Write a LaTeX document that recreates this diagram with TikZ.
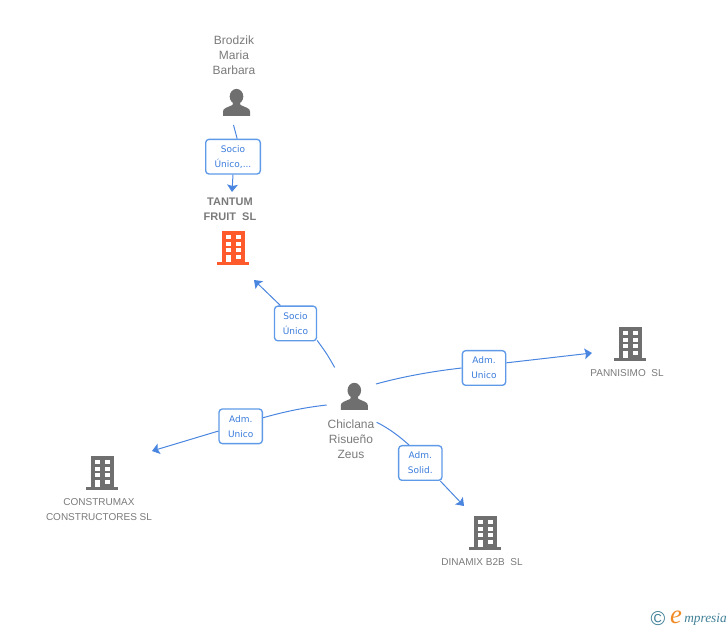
\documentclass[tikz,border=0pt]{standalone}
\usepackage{fontspec}
\setmainfont{Liberation Sans}
\newfontfamily\boxfont{DejaVu Sans}
\newfontfamily\logofont{Liberation Serif}
\usepackage{tikz}
\usetikzlibrary{arrows.meta,positioning}
\definecolor{linkblue}{HTML}{4A86E0}
\definecolor{boxblue}{HTML}{5F9AE8}
\definecolor{txtblue}{HTML}{3A7CDC}
\definecolor{icongray}{HTML}{6F6F6F}
\definecolor{txtgray}{HTML}{7A7A7A}
\definecolor{mainorange}{HTML}{FF5A2C}
\definecolor{logoteal}{HTML}{3F8097}
\definecolor{logoorange}{HTML}{F08A24}
\tikzstyle{line} = [draw=linkblue, line width=0.75pt]
\tikzstyle{arrow} = [line, -{Stealth[length=5.5pt,width=8pt,inset=1pt]}]
\tikzstyle{role} = [draw=boxblue, line width=1pt, fill=white, rounded corners=2.5pt, inner sep=0pt, minimum height=26pt, align=center, text=txtblue, font=\boxfont\fontsize{6.75}{11.25}\selectfont]
\tikzstyle{persontxt} = [inner sep=0pt, align=center, text=txtgray, font=\fontsize{9}{11.25}\selectfont]
\tikzstyle{firmtxt} = [inner sep=0pt, align=center, text=txtgray, font=\fontsize{7.5}{11.25}\selectfont]
\tikzstyle{icon} = [inner sep=0pt, minimum width=24pt, minimum height=25pt]
% name, position, colour
\newcommand{\buildingicon}[3]{
  \node (#1) at (#2) [icon] {};
  \begin{scope}[shift={(#2)}]
    \fill [#3] (-16,14) rectangle (16,17);
    \fill [#3] (-11,-17) rectangle (12,15);
    \foreach \px in {-7.5,2.5}
      \foreach \py in {-13,-6.3,0.3}
        \fill [white] (\px,\py) rectangle +(5,4);
    \fill [white] (-7.5,7) rectangle (-2.5,14);
    \fill [white] (2.5,7) rectangle (7.5,11);
  \end{scope}
}
% name, position
\newcommand{\personicon}[2]{
  \node (#1) at (#2) [icon] {};
  \begin{scope}[shift={(#2)}]
    \fill [icongray] (0,-6) ellipse [x radius=6.8, y radius=7.6];
    \fill [icongray] (-13.5,13.5) -- (-13.5,9) .. controls (-13.5,5.5) and (-9,5) .. (-4,2.5)
      -- (-3,-2) -- (3,-2) -- (4,2.5) .. controls (9,5) and (13.5,5.5) .. (13.5,9) -- (13.5,13.5) -- cycle;
  \end{scope}
}

\begin{document}
\begin{tikzpicture}[x=0.75pt, y=-0.75pt]
\useasboundingbox (0,0) rectangle (728,630);

\personicon{pers0}{236.5,102.5}
\node (pers0txt) at (234,55) [persontxt] {Brodzik\\Maria\\Barbara};

\personicon{pers1}{354.3,396.4}
\node (pers1txt) at (351,439) [persontxt] {Chiclana\\Risueño\\Zeus};

\buildingicon{firm0}{233,248}{mainorange}
\node (firm0txt) at (230,209) [firmtxt, font=\bfseries\fontsize{8.25}{11.25}\selectfont] {TANTUM\\FRUIT\ \ SL};

\buildingicon{firm1}{630,344}{icongray}
\node (firm1txt) at (627,373) [firmtxt] {PANNISIMO\ \ SL};

\buildingicon{firm2}{102,473}{icongray}
\node (firm2txt) at (99,509.5) [firmtxt] {CONSTRUMAX\\CONSTRUCTORES SL};

\buildingicon{firm3}{485,533}{icongray}
\node (firm3txt) at (482,562) [firmtxt] {DINAMIX B2B\ \ SL};

\node (role0) at (233,156.7) [role, minimum width=41pt] {Socio\\Único,...};
\node (role1) at (295.5,323.5) [role, minimum width=31.5pt] {Socio\\Único};
\node (role2) at (484,368) [role, minimum width=32.5pt] {Adm.\\Unico};
\node (role3) at (420.3,463) [role, minimum width=32.5pt] {Adm.\\Solid.};
\node (role4) at (240.7,426.3) [role, minimum width=32.5pt] {Adm.\\Unico};

\coordinate (from0) at (233.5,125);
\coordinate (from1) at (334.7,367.5);
\coordinate (from2) at (376,384);
\coordinate (from3) at (376.7,422.3);
\coordinate (from4) at (326.7,405);
\coordinate (to0) at (232,192);
\coordinate (to1) at (254,280);
\coordinate (to2) at (592,353);
\coordinate (to3) at (464,506);
\coordinate (to4) at (152,451);

\path [line] (from0) -- (role0.77);
\path [arrow] (role0.south) -- (to0);

\path [line] (from1) .. controls (327,354) .. (role1.-38);
\path [arrow] (role1.130) -- (to1);

\path [line] (from2) .. controls (405,376) and (435,371) .. (role2.west);
\path [arrow] (role2.13) -- (to2);

\path [line] (from3) .. controls (390,429) and (400,437) .. (role3.122);
\path [arrow] (role3.-42) -- (to3);

\path [line] (from4) .. controls (300,408) and (280,413) .. (role4.21);
\path [arrow] (role4.192) -- (to4);

\node (logoc) at (658,619) [inner sep=0pt, text=logoteal, font=\fontsize{15}{15}\selectfont] {\textcopyright};
\node (logoe) at (676,617) [inner sep=0pt, text=logoorange, font=\logofont\itshape\fontsize{20}{20}\selectfont] {e};
\node (logotxt) at (684,622.5) [anchor=base west, inner sep=0pt, text=logoteal, font=\logofont\itshape\fontsize{10}{10}\selectfont] {mpresia};

\end{tikzpicture}
\end{document}
